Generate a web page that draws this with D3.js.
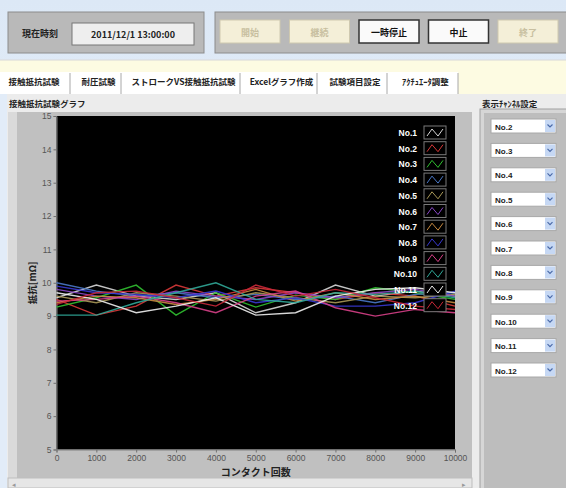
<!DOCTYPE html>
<html>
<head>
<meta charset="utf-8">
<script src="https://cdn.jsdelivr.net/npm/d3@7"></script>
<style>
  body { margin: 0; background: #ffffff; }
  svg text { font-family: "Noto Sans CJK JP", "DejaVu Sans", sans-serif; }
</style>
</head>
<body>
<div id="chart"></div>
<script>
// data
var contacts = [0, 1000, 2000, 3000, 4000, 5000, 6000, 7000, 8000, 9000, 10000];
var channels = ["No.1", "No.2", "No.3", "No.4", "No.5", "No.6", "No.7", "No.8", "No.9", "No.10", "No.11", "No.12"];
var channelColors = ["#d8d8d8", "#d83838", "#30c030", "#4a78c8", "#a89858", "#8a48c8", "#c88a40", "#3838d0", "#d84088", "#30a898", "#f0f0f0", "#c82838"];
var resistance = [
    [9.55, 9.93, 9.60, 9.50, 9.70, 9.10, 9.40, 9.93, 9.60, 9.75, 9.60],
    [9.50, 9.03, 9.30, 9.93, 9.60, 9.85, 9.70, 9.50, 9.70, 9.60, 9.30],
    [9.27, 9.55, 9.93, 9.03, 9.70, 9.27, 9.63, 9.50, 9.85, 9.70, 9.50],
    [10.0, 9.75, 9.60, 9.70, 9.55, 9.65, 9.50, 9.60, 9.40, 9.65, 9.70],
    [9.60, 9.40, 9.70, 9.60, 9.45, 9.70, 9.55, 9.40, 9.60, 9.55, 9.65],
    [9.80, 9.60, 9.50, 9.75, 9.60, 9.50, 9.70, 9.55, 9.70, 9.80, 9.60],
    [9.40, 9.60, 9.55, 9.35, 9.50, 9.80, 9.45, 9.70, 9.50, 9.60, 9.40],
    [9.90, 9.70, 9.65, 9.55, 9.75, 9.40, 9.55, 9.30, 9.30, 9.40, 9.75],
    [9.45, 9.50, 9.60, 9.40, 9.10, 9.60, 9.75, 9.25, 9.00, 9.20, 9.10],
    [9.03, 9.03, 9.40, 9.70, 10.0, 9.50, 9.40, 9.70, 9.65, 9.75, 9.55],
    [9.70, 9.50, 9.10, 9.30, 9.55, 9.03, 9.10, 9.60, 9.80, 9.85, 9.70],
    [9.35, 9.70, 9.75, 9.55, 9.30, 9.93, 9.60, 9.80, 9.55, 9.30, 9.20]
];
var xTicks = [0, 1000, 2000, 3000, 4000, 5000, 6000, 7000, 8000, 9000, 10000];
var yTicks = [5, 6, 7, 8, 9, 10, 11, 12, 13, 14, 15];
var tabs = ["接触抵抗試験", "耐圧試験", "ストロークVS接触抵抗試験", "Excelグラフ作成", "試験項目設定", "ｱｸﾁｭｴｰﾀ調整"];
var buttons = ["開始", "継続", "一時停止", "中止", "終了"];
var buttonEnabled = [false, false, true, true, false];
var selectorChannels = ["No.2", "No.3", "No.4", "No.5", "No.6", "No.7", "No.8", "No.9", "No.10", "No.11", "No.12"];

var W = 566, H = 488;
var svg = d3.select("#chart").append("svg")
    .attr("width", W)
    .attr("height", H);

var defs = svg.append("defs");
var sky = defs.append("linearGradient").attr("id", "sky").attr("x1", 0).attr("y1", 0).attr("x2", 0).attr("y2", 1);
sky.append("stop").attr("offset", "0%").attr("stop-color", "#dce8f6");
sky.append("stop").attr("offset", "100%").attr("stop-color", "#f2f6fb");
// the screenshot is soft, lines look a bit smeared
defs.append("filter").attr("id", "soft")
    .append("feGaussianBlur").attr("stdDeviation", 0.45);

// window background
svg.append("rect").attr("width", W).attr("height", H).attr("fill", "url(#sky)");

// top panels
svg.append("rect").attr("x", 8).attr("y", 12).attr("width", 196).attr("height", 41)
    .attr("fill", "#b9b9b9").attr("stroke", "#8c8c8c");
svg.append("rect").attr("x", 215).attr("y", 12).attr("width", 356).attr("height", 41)
    .attr("fill", "#b9b9b9").attr("stroke", "#8c8c8c");

svg.append("text").attr("x", 22).attr("y", 37)
    .attr("font-size", "9px").attr("font-weight", "bold").attr("fill", "#222")
    .text("現在時刻");
svg.append("rect").attr("x", 72).attr("y", 23).attr("width", 122).attr("height", 22)
    .attr("fill", "#eeeeee").attr("stroke", "#777");
svg.append("text").attr("x", 133).attr("y", 37.5)
    .attr("font-size", "9px").attr("font-weight", "bold").attr("fill", "#222")
    .style("text-anchor", "middle")
    .text("2011/12/1 13:00:00");

var btnX = d3.scalePoint().domain(buttons).range([250, 528]);
var btn = svg.selectAll(".btn").data(buttons).enter().append("g")
    .attr("transform", function (d) { return "translate(" + (btnX(d) - 30) + ",20)"; });
btn.append("rect").attr("width", 60).attr("height", 23)
    .attr("fill", function (d, i) { return buttonEnabled[i] ? "#fafafa" : "#f4efd8"; })
    .attr("stroke", function (d, i) { return buttonEnabled[i] ? "#333" : "#cfc9b0"; })
    .attr("stroke-width", function (d, i) { return buttonEnabled[i] ? 1.5 : 1; });
btn.append("text").attr("x", 30).attr("y", 15.5)
    .attr("font-size", "9px").attr("font-weight", "bold")
    .attr("fill", function (d, i) { return buttonEnabled[i] ? "#111" : "#c8bfa0"; })
    .style("text-anchor", "middle")
    .text(function (d) { return d; });

// yellow band and tabs
svg.append("rect").attr("x", 0).attr("y", 60).attr("width", W).attr("height", 34).attr("fill", "#fdfbe2");
svg.append("line").attr("x1", 0).attr("x2", W).attr("y1", 60).attr("y2", 60).attr("stroke", "#d8d8d8");

var tabEdges = [0, 70, 121, 240, 317, 387, 458];
svg.append("rect").attr("x", 0).attr("y", 72).attr("width", 458).attr("height", 22).attr("fill", "#ffffff");
tabs.forEach(function (t, i) {
    svg.append("text")
        .attr("x", (tabEdges[i] + tabEdges[i + 1]) / 2 + (i === 0 ? -1 : 3))
        .attr("y", 85)
        .attr("font-size", "8.5px").attr("font-weight", "bold").attr("fill", "#222")
        .style("text-anchor", "middle")
        .text(t);
    svg.append("line").attr("x1", tabEdges[i + 1]).attr("x2", tabEdges[i + 1])
        .attr("y1", 73).attr("y2", 94).attr("stroke", "#a8a8a8");
});

// body below tabs
svg.append("rect").attr("x", 0).attr("y", 94).attr("width", W).attr("height", H - 94).attr("fill", "#ececec");
svg.append("rect").attr("x", 0).attr("y", 94).attr("width", 7).attr("height", H - 94).attr("fill", "#e2ecf8");

svg.append("text").attr("x", 9).attr("y", 107)
    .attr("font-size", "8.5px").attr("font-weight", "bold").attr("fill", "#222")
    .text("接触抵抗試験グラフ");
svg.append("text").attr("x", 482).attr("y", 107)
    .attr("font-size", "8.5px").attr("font-weight", "bold").attr("fill", "#222")
    .text("表示ﾁｬﾝﾈﾙ設定");

// graph panel
svg.append("rect").attr("x", 8).attr("y", 112).attr("width", 464).attr("height", 366)
    .attr("fill", "#dadada");
svg.append("rect").attr("x", 17).attr("y", 112).attr("width", 455).attr("height", 366)
    .attr("fill", "#c0c0c0");

var x = d3.scaleLinear().domain([0, 10000]).range([56.5, 455]);
var y = d3.scaleLinear().domain([5, 15]).range([449.5, 116]);

svg.append("rect")
    .attr("x", x(0)).attr("y", y(15))
    .attr("width", x(10000) - x(0)).attr("height", y(5) - y(15))
    .attr("fill", "#000");

var yAxis = svg.append("g")
    .attr("transform", "translate(" + x(0) + ",0)")
    .call(d3.axisLeft(y).tickValues(yTicks).tickSize(3).tickPadding(2));
var xAxis = svg.append("g")
    .attr("transform", "translate(0," + y(5) + ")")
    .call(d3.axisBottom(x).tickValues(xTicks).tickSize(3).tickPadding(2).tickFormat(d3.format("d")));
[xAxis, yAxis].forEach(function (a) {
    a.select(".domain").attr("stroke", "#808080");
    a.selectAll(".tick line").attr("stroke", "#707070");
    a.selectAll(".tick text").attr("fill", "#555")
        .style("font-family", "'Liberation Sans Narrow', 'Liberation Sans', sans-serif")
        .style("font-size", "8.5px");
});

svg.append("text")
    .attr("transform", "translate(36," + y(10) + ") rotate(-90)")
    .attr("font-size", "9.5px").attr("font-weight", "bold").attr("fill", "#222")
    .style("text-anchor", "middle")
    .text("抵抗[mΩ]");
svg.append("text").attr("x", x(5000)).attr("y", 476)
    .attr("font-size", "10px").attr("font-weight", "bold").attr("fill", "#222")
    .style("text-anchor", "middle")
    .text("コンタクト回数");

// series
var line = d3.line()
    .x(function (d, i) { return x(contacts[i]); })
    .y(function (d) { return y(d); });

svg.append("g").attr("filter", "url(#soft)")
    .selectAll("path").data(resistance).enter().append("path")
    .attr("fill", "none")
    .attr("stroke", function (d, i) { return channelColors[i]; })
    .attr("stroke-width", 1.4)
    .attr("stroke-opacity", 0.9)
    .attr("d", line);

// legend
var legend = svg.append("g").selectAll("g").data(channels).enter().append("g")
    .attr("transform", function (d, i) { return "translate(0," + (126 + i * 15.7) + ")"; });
legend.append("text").attr("x", 417).attr("y", 10)
    .attr("font-size", "8.5px").attr("font-weight", "bold").attr("fill", "#fff")
    .style("font-family", "'Liberation Sans', sans-serif")
    .style("text-anchor", "end")
    .text(function (d) { return d; });
legend.append("rect").attr("x", 424).attr("y", 0).attr("width", 22).attr("height", 13)
    .attr("fill", "#000").attr("stroke", "#7a7a7a");
legend.append("path")
    .attr("d", "M427,10L432,3L438,10L443,3")
    .attr("fill", "none")
    .attr("stroke", function (d, i) { return channelColors[i]; })
    .attr("stroke-width", 1);

// scroll bar under the graph
svg.append("rect").attr("x", 8).attr("y", 478).attr("width", 464).attr("height", 10).attr("fill", "#e6e6e6")
    .attr("stroke", "#bdbdbd");
svg.append("text").attr("x", 12).attr("y", 487).attr("font-size", "7px").attr("fill", "#999").text("◂");
svg.append("text").attr("x", 462).attr("y", 487).attr("font-size", "7px").attr("fill", "#999").text("▸");

// channel selector panel
svg.append("rect").attr("x", 480).attr("y", 109).attr("width", 90).attr("height", 385)
    .attr("fill", "#d6d6d6").attr("stroke", "#a0a0a0");
svg.append("rect").attr("x", 484).attr("y", 113).attr("width", 86).attr("height", 380)
    .attr("fill", "#bdbdbd");

var sel = svg.append("g").selectAll("g").data(selectorChannels).enter().append("g")
    .attr("transform", function (d, i) { return "translate(491," + (119 + i * 24.4) + ")"; });
sel.append("rect").attr("width", 65).attr("height", 14).attr("fill", "#fff").attr("stroke", "#a8a8a8");
sel.append("rect").attr("x", 54).attr("y", 1).attr("width", 10).attr("height", 12).attr("fill", "#c6d8f4");
sel.append("path").attr("d", "M56.5,5.5L59,8L61.5,5.5").attr("fill", "none").attr("stroke", "#4a6aa8").attr("stroke-width", 1.2);
sel.append("text").attr("x", 4).attr("y", 10.5)
    .attr("font-size", "8px").attr("font-weight", "bold").attr("fill", "#222")
    .style("font-family", "'Liberation Sans', sans-serif")
    .text(function (d) { return d; });
</script>
</body>
</html>
